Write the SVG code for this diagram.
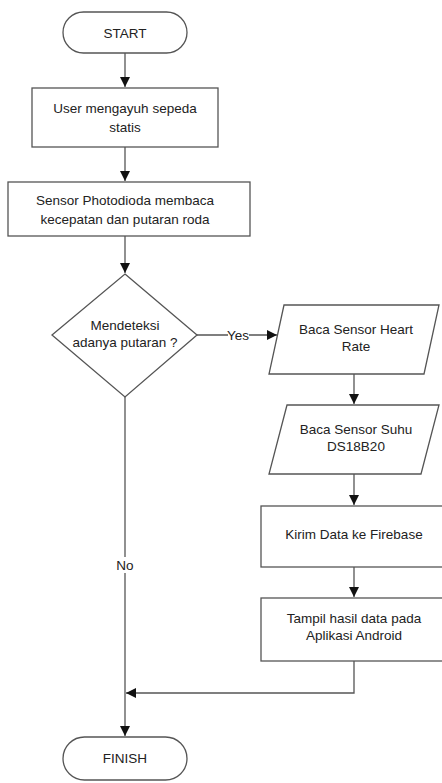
<svg xmlns="http://www.w3.org/2000/svg" width="442" height="783" viewBox="0 0 442 783">
<style>
.s{fill:#fff;stroke:#555;stroke-width:1.3}
.t{font-family:"Liberation Sans",Arial,sans-serif;font-size:13.5px;fill:#222;text-anchor:middle}
.c{fill:none;stroke:#555;stroke-width:1.3}
</style>
<defs>
<marker id="a" viewBox="0 0 10 10" refX="10" refY="5" markerWidth="10" markerHeight="10" markerUnits="userSpaceOnUse" orient="auto">
<path d="M0,0 L10,5 L0,10 Z" fill="#111"/>
</marker>
</defs>
<rect width="442" height="783" fill="#fff"/>
<g id="connectors">
<path class="c" d="M125,53 V87" marker-end="url(#a)"/>
<path class="c" d="M125,147 V181" marker-end="url(#a)"/>
<path class="c" d="M125,236 V273" marker-end="url(#a)"/>
<path class="c" d="M197,335 H277" marker-end="url(#a)"/>
<path class="c" d="M354,374 V404" marker-end="url(#a)"/>
<path class="c" d="M354,474 V505" marker-end="url(#a)"/>
<path class="c" d="M354,567 V597" marker-end="url(#a)"/>
<path class="c" d="M354,661 V693 H126" marker-end="url(#a)"/>
<path class="c" d="M125,397 V736" marker-end="url(#a)"/>
<rect x="228" y="327" width="21" height="16" fill="#fff"/>
<text class="t" x="238" y="340">Yes</text>
<rect x="113" y="557" width="24" height="16" fill="#fff"/>
<text class="t" x="125" y="570">No</text>
</g>
<g id="start">
<rect class="s" x="63" y="12" width="124" height="41" rx="20.5"/>
<text class="t" x="125" y="38">START</text>
</g>
<g id="user">
<rect class="s" x="32" y="88" width="186" height="59"/>
<text class="t" x="125" y="113">User mengayuh sepeda</text>
<text class="t" x="125" y="132">statis</text>
</g>
<g id="photodioda">
<rect class="s" x="8" y="182" width="242" height="54"/>
<text class="t" x="125" y="205">Sensor Photodioda membaca</text>
<text class="t" x="125" y="224">kecepatan dan putaran roda</text>
</g>
<g id="decision">
<polygon class="s" points="125,274 197,335 125,397 52,335"/>
<text class="t" x="125" y="330">Mendeteksi</text>
<text class="t" x="125" y="347">adanya putaran ?</text>
</g>
<g id="heart">
<polygon class="s" points="284,305 439,305 424,374 269,374"/>
<text class="t" x="356" y="334">Baca Sensor Heart</text>
<text class="t" x="356" y="351">Rate</text>
</g>
<g id="suhu">
<polygon class="s" points="287,405 439,405 421,474 269,474"/>
<text class="t" x="356" y="434">Baca Sensor Suhu</text>
<text class="t" x="356" y="451">DS18B20</text>
</g>
<g id="firebase">
<rect class="s" x="261" y="506" width="186" height="61"/>
<text class="t" x="354" y="539">Kirim Data ke Firebase</text>
</g>
<g id="android">
<rect class="s" x="261" y="598" width="186" height="63"/>
<text class="t" x="354" y="623">Tampil hasil data pada</text>
<text class="t" x="354" y="640">Aplikasi Android</text>
</g>
<g id="finish">
<rect class="s" x="63" y="737" width="124" height="43" rx="21.5"/>
<text class="t" x="125" y="763">FINISH</text>
</g>
</svg>
